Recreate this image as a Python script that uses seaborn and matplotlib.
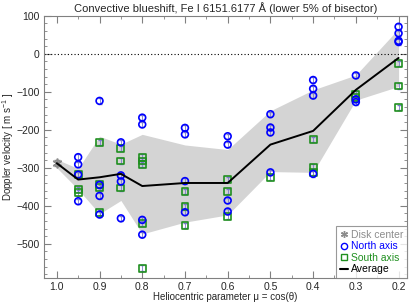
import numpy as np
import pandas as pd
import seaborn as sns
import matplotlib.pyplot as plt
from matplotlib.lines import Line2D
from matplotlib.ticker import MultipleLocator

# data
mu_north = [0.95, 0.95, 0.95, 0.95,
            0.9, 0.9, 0.9, 0.9,
            0.85, 0.85, 0.85, 0.85,
            0.8, 0.8, 0.8, 0.8,
            0.7, 0.7, 0.7, 0.7,
            0.6, 0.6, 0.6, 0.6,
            0.5, 0.5, 0.5, 0.5,
            0.4, 0.4, 0.4, 0.4,
            0.3, 0.3, 0.3,
            0.2, 0.2, 0.2, 0.2]
v_north = [-272, -291, -318, -388,
           -124, -345, -374, -423,
           -233, -320, -336, -433,
           -168, -186, -437, -476,
           -195, -212, -335, -417,
           -217, -239, -386, -415,
           -159, -194, -207, -312,
           -69, -92, -110, -316,
           -57, -120, -127,
           71, 54, 34, 31]

mu_south = [0.95, 0.95, 0.95,
            0.9, 0.9, 0.9, 0.9,
            0.85, 0.85, 0.85,
            0.8, 0.8, 0.8, 0.8, 0.8,
            0.7, 0.7, 0.7,
            0.6, 0.6, 0.6,
            0.5,
            0.4, 0.4, 0.4,
            0.3, 0.3,
            0.2, 0.2, 0.2]
v_south = [-318, -358, -366,
           -234, -345, -352, -417,
           -250, -282, -353,
           -272, -282, -292, -446, -564,
           -362, -402, -452,
           -331, -362, -429,
           -325,
           -226, -298, -312,
           -106, -115,
           -26, -85, -142]

mu_center = [1.0]
v_center = [-288]

mu_avg = [1.0, 0.95, 0.9, 0.85, 0.8, 0.7, 0.6, 0.5, 0.4, 0.3, 0.2]
v_avg = [-288, -331, -325, -316, -348, -340, -340, -239, -203, -95, -11]
v_upper = [-278, -302, -217, -238, -212, -240, -252, -150, -95, -56, 66]
v_lower = [-300, -357, -421, -386, -474, -443, -424, -310, -312, -122, -86]

x_ticks = [1.0, 0.9, 0.8, 0.7, 0.6, 0.5, 0.4, 0.3, 0.2]
y_ticks = [-500, -400, -300, -200, -100, 0, 100]

df_pts = pd.concat([
    pd.DataFrame({'mu': mu_north, 'v': v_north, 'axis': 'North axis'}),
    pd.DataFrame({'mu': mu_south, 'v': v_south, 'axis': 'South axis'}),
])
df_avg = pd.DataFrame({'mu': mu_avg, 'v': v_avg, 'lo': v_lower, 'hi': v_upper})

sns.set_style('ticks')
plt.rcParams['font.family'] = ['Liberation Sans', 'DejaVu Sans']
plt.rcParams['mathtext.fontset'] = 'custom'
plt.rcParams['mathtext.rm'] = 'Liberation Sans'

blue = '#0000ff'
green = '#1f8f1f'
grey = '#8c8c8c'

fig = plt.figure(figsize=(4.15, 3.06), dpi=100)
ax = fig.add_axes([0.106, 0.0915, 0.875, 0.857])

# spread band and zero line
ax.fill_between(df_avg['mu'], df_avg['lo'], df_avg['hi'], color='#d4d4d4', lw=0, zorder=1)
ax.axhline(0, color='black', ls=(0, (1, 2)), lw=0.8, zorder=2)

# small error bars on each point
ax.errorbar(df_pts['mu'], df_pts['v'], yerr=7, fmt='none', ecolor='#7a7acc',
            elinewidth=0.6, capsize=1.5, zorder=2)

sns.scatterplot(data=df_pts[df_pts['axis'] == 'North axis'], x='mu', y='v', ax=ax,
                marker='o', s=24, facecolor='none', edgecolor=blue, linewidth=1.2,
                zorder=4, legend=False)
sns.scatterplot(data=df_pts[df_pts['axis'] == 'South axis'], x='mu', y='v', ax=ax,
                marker='s', s=24, facecolor='none', edgecolor=green, linewidth=1.2,
                zorder=3, legend=False)
ax.errorbar(mu_center, v_center, yerr=8, fmt='none', ecolor=grey, elinewidth=0.8,
            capsize=2, zorder=3)
ax.plot(mu_center, v_center, ls='none', marker=(6, 2, 0), ms=7, mew=1.2,
        color=grey, zorder=5)

sns.lineplot(data=df_avg, x='mu', y='v', ax=ax, color='black', lw=1.4, zorder=5)

# axes styling
ax.set_xlim(1.03, 0.18)
ax.set_ylim(-590, 100)
ax.set_xticks(x_ticks)
ax.set_xticklabels(['%.1f' % t for t in x_ticks])
ax.set_yticks(y_ticks)
ax.xaxis.set_minor_locator(MultipleLocator(0.05))
ax.yaxis.set_minor_locator(MultipleLocator(20))
ax.tick_params(which='both', direction='in', top=True, right=True,
               color='#808080', labelsize=7.5, pad=3)
ax.tick_params(which='major', length=5, width=0.8)
ax.tick_params(which='minor', length=2.5, width=0.6)
for s in ax.spines.values():
    s.set_color('#808080')
    s.set_linewidth(0.8)

ax.set_title('Convective blueshift, Fe I 6151.6177 \u00c5 (lower 5% of bisector)',
             fontsize=8, pad=3)
ax.set_xlabel('Heliocentric parameter \u03bc = cos(\u03b8)', fontsize=7, labelpad=0)
ax.set_ylabel(r'Doppler velocity [ m s$^{-1}$ ]', fontsize=7, labelpad=0)

# legend
handles = [
    Line2D([], [], ls='none', marker=(6, 2, 0), ms=5, mew=1, color=grey),
    Line2D([], [], ls='none', marker='o', ms=4.5, mfc='none', mec=blue, mew=1),
    Line2D([], [], ls='none', marker='s', ms=4.5, mfc='none', mec=green, mew=1),
    Line2D([], [], color='black', lw=1.5),
]
leg = ax.legend(handles, ['Disk center', 'North axis', 'South axis', 'Average'],
                loc='lower right', fontsize=7.5, frameon=True, fancybox=False,
                borderaxespad=0, handlelength=0.8, handletextpad=0.3,
                labelspacing=0.15, borderpad=0.35, edgecolor='#808080')
leg.get_frame().set_linewidth(0.8)
for txt, c in zip(leg.get_texts(), [grey, blue, green, 'black']):
    txt.set_color(c)

fig.savefig('out.png', dpi=100)
